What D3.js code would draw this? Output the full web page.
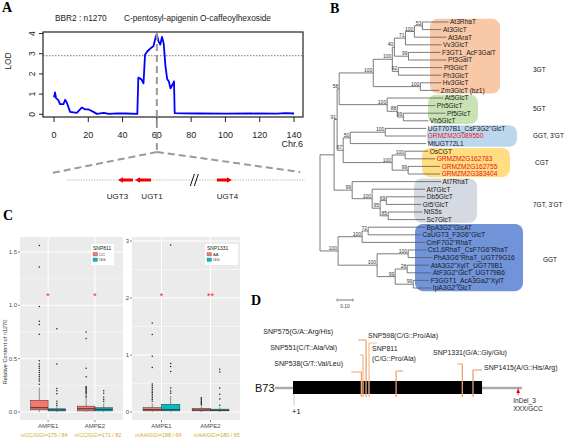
<!DOCTYPE html>
<html><head><meta charset="utf-8">
<script src="https://cdn.jsdelivr.net/npm/d3@7/dist/d3.min.js"></script>
<style>
html,body{margin:0;padding:0;background:#fff}
svg{display:block}
</style></head><body>
<svg id="fig" width="566" height="437" xmlns="http://www.w3.org/2000/svg"></svg>
<script>
// ================= DATA =================
// ---- Panel A : LOD profile on Chr.6
const lodPos = [0,0.6,1.2,2.5,3.5,5.5,6.5,7.5,9.4,13.3,16.3,18.2,20.2,23,25,29,32,37,42,48.6,49.2,51,52.2,53.1,54.5,56.5,58,59.4,60,61,62,63,64,65,66,67,68,69,70,70.4,75,85,100,115,130,135,140];
const lodVal = [0.84,1.08,0.8,0.7,0.5,0.5,0.72,0.57,0.12,0.07,0.34,0.24,0.24,0.12,0.02,0.07,0.02,0.05,0.04,0.02,1.82,1.73,1.53,2.95,3.12,3.28,3.37,3.85,3.97,3.6,3.45,3.83,3.5,2.4,1.75,1.62,1.28,1.45,1.63,0.06,0.05,0.04,0.03,0.04,0.03,0.06,0.04];
const lodTicksX = [0,20,40,60,80,100,120,140];
const lodTicksY = [0,1,2,3,4];
const lodThreshold = 2.9;
const peakPos = 60;
const geneNames = ["UGT3","UGT1","UGT4"];
const geneStart = [27.7,35.3,63.0];   // schematic track units, start -> end gives direction
const geneEnd   = [21.4,28.6,69.3];
const trackBreak = 53.5;

// ---- Panel B : phylogenetic tree (leaf indices in newick)
const leafNames = ["At3RhaT","At3GlcT","At3AraT","Vv3GlcT","F3GT1_AcF3GalT","Pf3GalT","Pf3GlcT","Ph3GlcT","Hv3GlcT","Zm3GlcT (bz1)",
  "At5GlcT","Ph5GlcT","Pf5GlcT","Vh5GlcT",
  "UGT707B1_CsF3G2''GlcT","GRMZM2G089550","MtUGT72L1",
  "OsCGT","GRMZM2G162783","GRMZM2G162755","GRMZM2G383404",
  "At7RhaT","At7GlcT","Db5GlcT","Gt5'GlcT","NtS5s","Sc7GlcT",
  "BpA3G2''GlcAT","CaUGT3_F3G6''GlcT","CmF7G2''RhaT","Cs1,6RhaT_CsF7G6''RhaT","PhA3G6''RhaT_UGT79G16","AtA3G2''XylT_UGT79B1","AtF3G2''GlcT_UGT79B6","F3GGT1_AcA3Ga2''XylT","IpA3G2''GlcT"];
const cladeG3 = "((((((0:0.163,1:0.119)53:0.05,2:0.2)100:0.056,3:0.225)71:0.069,(4:0.2,5:0.238)99:0.088)40:0.013,(6:0.275,7:0.269)92:0.038)100:0.119,(8:0.131,9:0.119)100:0.294)100:0.213";
const cladeG5 = "(10:0.35,(11:0.238,(12:0.263,13:0.156)99:0.038)88:0.063)100:0.3";
const cladeGG = "((14:0.256,15:0.256)100:0.219,16:0.475)50:0.044";
const cladeCG = "((17:0.144,18:0.188)100:0.081,(19:0.2,20:0.2)99:0.1)100:0.306";
const cladeG7 = "(21:0.556,(22:0.331,((23:0.244,24:0.219)69:0.038,(25:0.213,26:0.231)85:0.05)95:0.05)100:0.125)99:0.113";
const cladeGGT = "(((27:0.356,28:0.331)72:0.038,29:0.394)100:0.15,((30:0.113,31:0.15)100:0.194,((32:0.138,33:0.15)28:0.075,(34:0.1,35:0.113)99:0.113)99:0.113)100:0.244)100:0.113";
const newick = "(((("+cladeG3+","+cladeG5+")58:0.013,("+cladeGG+","+cladeCG+")67:0.038)91:0.019,"+cladeG7+"):0.088,"+cladeGGT+");";
const groupNames = ["3GT","5GT","GGT, 3'GT","CGT","7GT, 3'GT","GGT"];
const groupFirst = [0,10,14,17,21,27];
const groupLast  = [9,13,16,20,26,35];

// ---- Panel C : box plots
const envs = ["AMPE1","AMPE2"];
const snp811Geno = ["CC","GG"];
const snp1331Geno = ["AA","GG"];
// [lower whisker, Q1, median, Q3, upper whisker] per env, per genotype
const snp811Stats = [[[0,0.02,0.04,0.11,0.23],[0,0.01,0.02,0.03,0.05]],[[0,0.01,0.03,0.055,0.13],[0,0.01,0.025,0.04,0.08]]];
const snp811Out = [[[1.56,1.36,0.99,0.85,0.82,0.73,0.48,0.45,0.43,0.41,0.39,0.37,0.35,0.33,0.31,0.29,0.26],[0.78,0.45,0.22,0.20,0.17,0.10,0.08,0.06]],
                   [[0.75,0.69,0.41,0.33,0.24,0.23,0.22,0.21,0.20,0.19,0.18,0.17,0.15,0.14],[0.20,0.175,0.14,0.12,0.10]]];
const snp1331Stats = [[[0,0.02,0.04,0.075,0.15],[0,0.02,0.04,0.135,0.28]],[[0,0.02,0.035,0.065,0.12],[0,0.02,0.03,0.05,0.08]]];
const snp1331Out = [[[1.56,1.36,0.98,0.78,0.49,0.46,0.43,0.40,0.37,0.34,0.31,0.28,0.25,0.22,0.19],[2.93,0.85,0.80,0.71,0.42,0.37,0.33]],
                    [[0.25,0.23,0.21,0.19,0.17,0.15,0.13],[0.75,0.70,0.42,0.31,0.23,0.12]]];
const snp811Sig = ["*","*"];   const snp811SigVal = 1.1;
const snp1331Sig = ["*","**"]; const snp1331SigVal = 2.05;
const snp811N = ["n(CC/GG)=175 / 84","n(CC/GG)=171 / 82"];
const snp1331N = ["n(AA/GG)=188 / 64","n(AA/GG)=180 / 65"];
const ticks811 = [0,0.5,1.0,1.5];
const ticks1331 = [0,1,2,3];

// ---- Panel D : gene model
const snpPos = [538,551,575,598,811,1331,1415];
const snpLabels = [["SNP538(G/T::Val/Leu)"],["SNP551(C/T::Ala/Val)"],["SNP575(G/A::Arg/His)"],["SNP598(C/G::Pro/Ala)"],["SNP811","(C/G::Pro/Ala)"],["SNP1331(G/A::Gly/Glu)"],["SNP1415(A/G::His/Arg)"]];
const geneModel = {flankStart:-140, cdsStart:1, cdsEnd:1486, flankEnd:1800};
const indelPos = 1770;
const indelLabel = ["InDel_3","XXX/GCC"];

// ================= DRAW =================
const svg = d3.select("#fig");
const SANS = '"Liberation Sans", Arial, Helvetica, sans-serif';
const SERIF = '"Liberation Serif", "Times New Roman", serif';

function txt(g, x, y, s, size, opt={}) {
  const t = g.append("text").attr("x",x).attr("y",y).text(s)
    .attr("font-family", opt.family||SANS).attr("font-size", size)
    .attr("fill", opt.fill||"#222");
  if (opt.anchor) t.attr("text-anchor", opt.anchor);
  if (opt.weight) t.attr("font-weight", opt.weight);
  if (opt.rotate!==undefined) t.attr("transform", `rotate(${opt.rotate},${x},${y})`);
  return t;
}

// panel letters
[["A",2,12],["B",330,13],["C",3,220],["D",251,305]].forEach(d=>txt(svg,d[1],d[2],d[0],14,{family:SERIF,weight:"bold",fill:"#000"}));

// ---------- Panel A ----------
(function(){
  const g = svg.append("g");
  const x = d3.scaleLinear().domain([0,140]).range([54,294]);
  const y = d3.scaleLinear().domain([0,4]).range([114.3,33.5]);
  const bx0=43, bx1=303, by0=32, by1=117;
  txt(g,55,21,"BBR2 : n1270",8.3);
  txt(g,124,21,"C-pentosyl-apigenin O-caffeoylhexoside",8.3);
  g.append("line").attr("x1",bx0).attr("x2",bx1).attr("y1",y(lodThreshold)).attr("y2",y(lodThreshold))
    .attr("stroke","#777").attr("stroke-width",1).attr("stroke-dasharray","1.5,1.5");
  g.append("path").datum(d3.zip(lodPos,lodVal))
    .attr("d", d3.line().x(d=>x(d[0])).y(d=>y(d[1])))
    .attr("fill","none").attr("stroke","#0000ff").attr("stroke-width",1.8).attr("stroke-linejoin","round");
  g.append("rect").attr("x",bx0).attr("y",by0).attr("width",bx1-bx0).attr("height",by1-by0)
    .attr("fill","none").attr("stroke","#222").attr("stroke-width",1.2);
  // x ticks
  lodTicksX.forEach(v=>{
    g.append("line").attr("x1",x(v)).attr("x2",x(v)).attr("y1",by1).attr("y2",by1+5).attr("stroke","#222");
    txt(g,x(v),138,String(v),9,{anchor:"middle"});
  });
  lodTicksY.forEach(v=>{
    g.append("line").attr("x1",bx0-4).attr("x2",bx0).attr("y1",y(v)).attr("y2",y(v)).attr("stroke","#222");
    txt(g,35,y(v),String(v),8.5,{anchor:"middle",rotate:-90});
  });
  txt(g,11,61,"LOD",8.5,{anchor:"middle",rotate:-90});
  txt(g,303,147,"Chr.6",9,{anchor:"end"});
  // peak projection
  const px = x(peakPos);
  const dash = {stroke:"#9a9a9a", w:2, da:"7,4"};
  g.append("line").attr("x1",px).attr("x2",px).attr("y1",33).attr("y2",152)
    .attr("stroke",dash.stroke).attr("stroke-width",dash.w).attr("stroke-dasharray",dash.da);
  // gene track
  const t = d3.scaleLinear().domain([0,100]).range([67,305]);
  g.append("line").attr("x1",px).attr("y1",152).attr("x2",t(-6.3)).attr("y2",173)
    .attr("stroke",dash.stroke).attr("stroke-width",dash.w).attr("stroke-dasharray",dash.da);
  g.append("line").attr("x1",px).attr("y1",152).attr("x2",t(98)).attr("y2",172)
    .attr("stroke",dash.stroke).attr("stroke-width",dash.w).attr("stroke-dasharray",dash.da);
  const ty = 180;
  g.append("line").attr("x1",t(0)).attr("x2",t(100)).attr("y1",ty).attr("y2",ty)
    .attr("stroke","#bbb").attr("stroke-width",1.2).attr("stroke-dasharray","1.5,1.2");
  const labDx = [-8,9,3];
  geneNames.forEach((n,i)=>{
    const a=t(geneStart[i]), b=t(geneEnd[i]), dir=Math.sign(b-a);
    g.append("line").attr("x1",a).attr("x2",b-dir*3).attr("y1",ty).attr("y2",ty).attr("stroke","#ee0000").attr("stroke-width",3);
    g.append("path").attr("d",`M${b},${ty} L${b-dir*5},${ty-2.8} L${b-dir*5},${ty+2.8} Z`).attr("fill","#ee0000");
    txt(g,(a+b)/2+labDx[i],199,n,8,{anchor:"middle"});
  });
  const bk=t(trackBreak);
  [-2,2].forEach(o=>g.append("line").attr("x1",bk+o-2).attr("x2",bk+o+2).attr("y1",ty+6).attr("y2",ty-6).attr("stroke","#111").attr("stroke-width",1));
})();

// ---------- Panel B ----------
(function(){
  function parseNewick(s){
    let i=0;
    function node(){
      const n={};
      if(s[i]==='('){ i++; n.children=[]; n.children.push(node()); while(s[i]===','){ i++; n.children.push(node()); } i++; }
      let lab=''; while(i<s.length && !',():;'.includes(s[i])) lab+=s[i++];
      n.len=0;
      if(s[i]===':'){ i++; let l=''; while(i<s.length && !',();'.includes(s[i])) l+=s[i++]; n.len=+l; }
      if(n.children) n.boot = lab===''?null:+lab; else n.leaf=+lab;
      return n;
    }
    return node();
  }
  const root = d3.hierarchy(parseNewick(newick));
  const x = d3.scaleLinear().domain([0,0.1]).range([320,336]);
  const y = d3.scaleLinear().domain([0,leafNames.length-1]).range([22,288]);
  root.eachBefore(n=>{ n.dist = (n.parent?n.parent.dist:0) + n.data.len; });
  root.eachAfter(n=>{ n.py = n.children ? (n.children[0].py + n.children[n.children.length-1].py)/2 : y(n.data.leaf); });
  const g = svg.append("g");
  // group boxes
  const boxX0=[430,428,427,422,414,415], boxX1=[500,478,517,510,477,523];
  const boxFill=["#f9c8a7","#c8e2b4","#bcd6ee","#ffdd80","#d5d9e1","#7093da"];
  const labX=[533,533,533,535,533,543], labY=[70,109,136,163,205,260];
  groupNames.forEach((n,i)=>{
    const y0=y(groupFirst[i])-3.2, y1=y(groupLast[i])+3.2;
    g.append("rect").attr("x",boxX0[i]).attr("y",y0).attr("width",boxX1[i]-boxX0[i]).attr("height",y1-y0)
      .attr("rx",8).attr("fill",boxFill[i]);
    txt(g,labX[i],labY[i]+2,n,6.5,{fill:"#111"});
  });
  // branches
  const lc="#5a5a5a";
  root.each(n=>{
    if(!n.children) return;
    const nx=x(n.dist);
    const c=n.children;
    g.append("line").attr("x1",nx).attr("x2",nx).attr("y1",c[0].py).attr("y2",c[c.length-1].py).attr("stroke",lc).attr("stroke-width",0.8);
    c.forEach(ch=>g.append("line").attr("x1",nx).attr("x2",x(ch.dist)).attr("y1",ch.py).attr("y2",ch.py).attr("stroke",lc).attr("stroke-width",0.8));
    if(n.data.boot!==null && n.data.boot!==undefined) txt(g,nx-1,n.py-1,String(n.data.boot),5,{anchor:"end",fill:"#333"});
  });
  root.leaves().forEach(l=>{
    const nm=leafNames[l.data.leaf];
    txt(g,x(l.dist)+1.5,l.py+2.3,nm,6.6,{fill: nm.startsWith("GRMZM")?"#e8141c":"#1a1a1a"});
  });
  // scale bar
  const sb0=337;
  g.append("line").attr("x1",sb0).attr("x2",sb0+(x(0.1)-x(0))).attr("y1",300).attr("y2",300).attr("stroke","#555").attr("stroke-width",0.8);
  [sb0,sb0+(x(0.1)-x(0))].forEach(v=>g.append("line").attr("x1",v).attr("x2",v).attr("y1",298.5).attr("y2",301.5).attr("stroke","#555").attr("stroke-width",0.6));
  txt(g,sb0+8,308,"0.10",5,{anchor:"middle",fill:"#444"});
})();

// ---------- Panel C ----------
function boxPanel(o){
  const g = svg.append("g");
  const top=237, bot=420;
  const x = d3.scalePoint().domain(envs).range([o.x0,o.x1]).padding(0.6);
  const bw = x.step()*0.375;
  const y = d3.scaleLinear().domain([0,o.ymax]).range([412,o.ymaxPx]);
  const fills=["#f8766d","#00bfc4"];
  g.append("rect").attr("x",o.x0).attr("y",top).attr("width",o.x1-o.x0).attr("height",bot-top).attr("fill","#ebebeb");
  for(let i=0;i<o.ticks.length;i++){
    const v=o.ticks[i];
    if(i<o.ticks.length){ const m=v+(o.ticks[1]-o.ticks[0])/2; if(y(m)>top)
      g.append("line").attr("x1",o.x0).attr("x2",o.x1).attr("y1",y(m)).attr("y2",y(m)).attr("stroke","#fff").attr("stroke-width",0.5); }
    g.append("line").attr("x1",o.x0).attr("x2",o.x1).attr("y1",y(v)).attr("y2",y(v)).attr("stroke","#fff").attr("stroke-width",1);
    g.append("line").attr("x1",o.x0-2).attr("x2",o.x0).attr("y1",y(v)).attr("y2",y(v)).attr("stroke","#333").attr("stroke-width",0.6);
    txt(g,o.x0-3,y(v)+2,o.tickLab[i],6,{anchor:"end",fill:"#4d4d4d"});
  }
  const m0 = -(o.ticks[1]-o.ticks[0])/2; // below zero minor none
  envs.forEach((e,ei)=>{
    const cx=x(e);
    g.append("line").attr("x1",cx).attr("x2",cx).attr("y1",top).attr("y2",bot).attr("stroke","#fff").attr("stroke-width",1);
  });
  envs.forEach((e,ei)=>{
    const cx=x(e);
    [0,1].forEach(gi=>{
      const s=o.stats[ei][gi], bx=cx-bw+gi*bw, mx=bx+bw/2;
      g.append("line").attr("x1",mx).attr("x2",mx).attr("y1",y(s[4])).attr("y2",y(s[3])).attr("stroke","#333").attr("stroke-width",0.5);
      g.append("line").attr("x1",mx).attr("x2",mx).attr("y1",y(s[1])).attr("y2",y(s[0])).attr("stroke","#333").attr("stroke-width",0.5);
      g.append("rect").attr("x",bx).attr("y",y(s[3])).attr("width",bw).attr("height",Math.max(0.8,y(s[1])-y(s[3])))
        .attr("fill",fills[gi]).attr("stroke","#333").attr("stroke-width",0.5);
      g.append("line").attr("x1",bx).attr("x2",bx+bw).attr("y1",y(s[2])).attr("y2",y(s[2])).attr("stroke","#333").attr("stroke-width",1);
      o.out[ei][gi].forEach(v=>g.append("circle").attr("cx",mx).attr("cy",y(v)).attr("r",0.75).attr("fill","#222"));
    });
    g.append("line").attr("x1",cx).attr("x2",cx).attr("y1",bot).attr("y2",bot+2).attr("stroke","#333").attr("stroke-width",0.6);
    txt(g,cx,427.5,e,6,{anchor:"middle",fill:"#4d4d4d"});
    txt(g,cx,y(o.sigVal)+4,o.sig[ei],9,{anchor:"middle",fill:"#ff1a1a"});
    txt(g,cx+o.nDx[ei],436.5,o.n[ei],5.4,{anchor:"middle",fill:"#d4a52a"});
  });
  // legend
  const lx=o.legX, ly=244;
  g.append("rect").attr("x",lx).attr("y",ly).attr("width",o.legW).attr("height",21).attr("fill","#fff");
  txt(g,lx+2,ly+6,o.legTitle,5,{fill:"#222"});
  o.geno.forEach((k,i)=>{
    g.append("rect").attr("x",lx+2).attr("y",ly+8.5+i*5.5).attr("width",4.5).attr("height",3.5).attr("fill",fills[i]).attr("stroke","#555").attr("stroke-width",0.3);
    txt(g,lx+8,ly+11.7+i*5.5,k,4.3,{fill:"#333"});
  });
  return g;
}
boxPanel({x0:20,x1:123,ymax:1.5,ymaxPx:252,ticks:ticks811,tickLab:["0.0","0.5","1.0","1.5"],stats:snp811Stats,out:snp811Out,
  sig:snp811Sig,sigVal:snp811SigVal,n:snp811N,nDx:[-4,3],legX:91,legW:23,legTitle:"SNP811",geno:snp811Geno});
boxPanel({x0:132,x1:240,ymax:3,ymaxPx:241,ticks:ticks1331,tickLab:["0","1","2","3"],stats:snp1331Stats,out:snp1331Out,
  sig:snp1331Sig,sigVal:snp1331SigVal,n:snp1331N,nDx:[-3,6],legX:205,legW:33,legTitle:"SNP1331",geno:snp1331Geno});
txt(svg,6.5,352,"Relative Content of n1270",5.6,{anchor:"middle",rotate:-90,fill:"#333"});

// ---------- Panel D ----------
(function(){
  const g = svg.append("g");
  const x = d3.scaleLinear().domain([1,1415]).range([293,473]);
  const gy=388;
  txt(g,255,392,"B73",11,{fill:"#111"});
  g.append("line").attr("x1",x(geneModel.flankStart)).attr("x2",x(geneModel.flankEnd)).attr("y1",gy).attr("y2",gy).attr("stroke","#aaaaaa").attr("stroke-width",2.5);
  g.append("rect").attr("x",x(geneModel.cdsStart)).attr("y",381).attr("width",x(geneModel.cdsEnd)-x(geneModel.cdsStart)).attr("height",13).attr("fill","#000");
  g.append("line").attr("x1",x(1)+1).attr("x2",x(1)+1).attr("y1",394).attr("y2",405).attr("stroke","#a8d0e6").attr("stroke-width",1);
  txt(g,x(1)-1,414,"+1",7.5,{fill:"#111"});
  // SNP leaders: top y, hook dx, label x, label y, anchor
  const topY=[372,355,340,343,371,364,370], hook=[-10,-3,-8,8,7,-5,9];
  const labX=[343,337,333,368,372,433,484], labY=[365.5,350,333.5,337.5,351,354.5,369.5];
  const anch=["end","end","end","start","start","start","start"];
  const oc=["#f2a877","#f5b790","#f0a070","#f7c09a","#f0a070","#f0a070","#f0a070"];
  snpPos.forEach((p,i)=>{
    const sx=x(p);
    g.append("line").attr("x1",sx).attr("x2",sx).attr("y1",topY[i]).attr("y2",397).attr("stroke",oc[i]).attr("stroke-width",1.3);
    g.append("line").attr("x1",sx).attr("x2",sx+hook[i]).attr("y1",topY[i]).attr("y2",topY[i]).attr("stroke",oc[i]).attr("stroke-width",1.1);
    snpLabels[i].forEach((s,j)=>txt(g,labX[i],labY[i]+j*10,s,7,{anchor:anch[i],fill:"#222"}));
  });
  const ix=x(indelPos);
  g.append("path").attr("d",`M${ix},${388} L${ix-1.8},${393} L${ix+1.8},${393} Z`).attr("fill","#e00");
  g.append("line").attr("x1",ix).attr("x2",ix).attr("y1",392).attr("y2",395).attr("stroke","#e00").attr("stroke-width",0.8);
  txt(g,ix-5,403,indelLabel[0],6.6,{fill:"#222"});
  txt(g,ix-5,410.5,indelLabel[1],6.6,{fill:"#222"});
})();
</script></body></html>
